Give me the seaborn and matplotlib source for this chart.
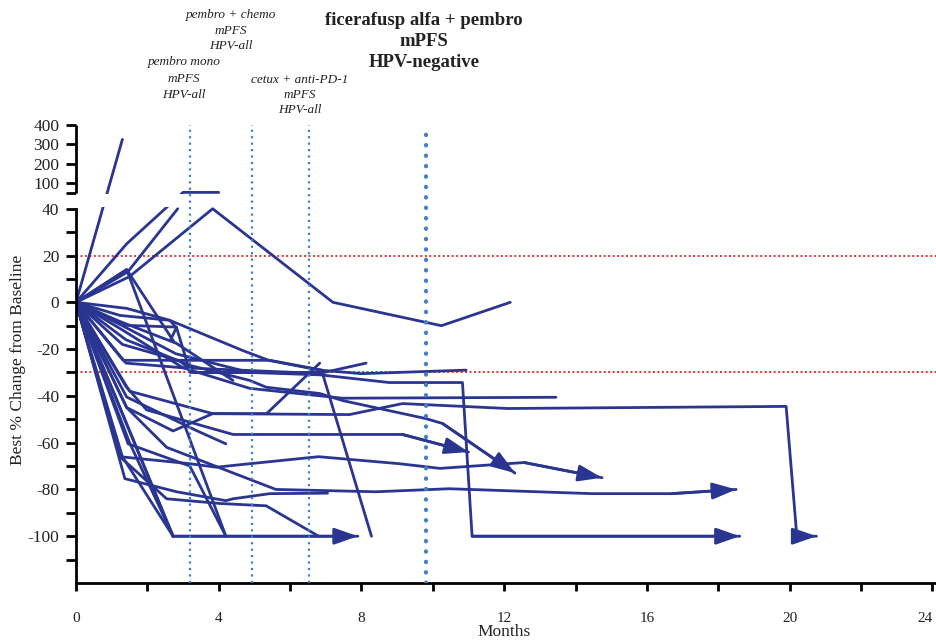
import numpy as np
import pandas as pd
import matplotlib
matplotlib.use("Agg")
import matplotlib.pyplot as plt
import seaborn as sns

# ---------------- data ----------------
# months on study and best % change from baseline, one list per patient
months = [
    [0, 1.3],
    [0, 1.42, 3.0, 4.0],
    [0, 1.45, 2.85],
    [0, 1.5, 3.83, 7.2, 10.24, 12.17],
    [0, 1.42, 2.75],
    [0, 1.42, 4.2],
    [0, 1.23, 2.63, 2.82, 3.2, 6.9, 8.28],
    [0, 1.42, 2.63, 4.67, 5.4, 6.83, 8.0, 10.93],
    [0, 1.32, 2.82, 2.65],
    [0, 1.3, 2.8, 4.87, 6.83, 8.78, 10.83, 11.1, 18.6],
    [0, 1.32, 3.0, 4.87, 7.47, 13.45],
    [0, 1.4, 3.2, 4.87, 5.33, 6.83, 7.47, 9.8, 10.27, 12.3],
    [0, 1.32, 5.43, 6.9],
    [0, 1.4, 3.0, 6.83, 8.13],
    [0, 1.42, 2.72, 3.83, 7.66, 9.15, 12.1, 19.9, 20.2, 20.75],
    [0, 1.5, 3.83, 5.34, 6.83],
    [0, 1.4, 1.98, 4.4, 9.15, 11.0],
    [0, 1.42, 3.37, 4.2],
    [0, 1.2, 2.82, 4.4],
    [0, 1.23, 3.19, 3.93, 4.87, 6.8, 9.06, 10.2, 12.56, 14.74],
    [0, 1.37, 2.82, 4.2, 4.4, 5.43, 7.05],
    [0, 1.23, 2.54, 4.03, 5.33, 6.8],
    [0, 1.42, 2.54, 5.6, 8.4, 10.46, 14.46, 16.7, 18.5],
    [0, 1.46, 3.19, 4.2],
    [0, 2.72, 7.9],
    [0, 1.3, 2.72],
    [0, 1.5, 2.72],
    [0, 1.1, 2.72],
    [0, 1.3, 2.9, 3.3, 6.9],
]
pct_change = [
    [0, 325],
    [0, 25, 50, 50],
    [0, 13, 40],
    [0, 11, 40, 0, -10, 0],
    [0, 14, -17],
    [0, 14, -100],
    [0, -5.6, -7.7, -11, -30, -30, -100],
    [0, -2.6, -7.7, -20.6, -24.8, -29, -30.5, -29],
    [0, -9.8, -10.6, -16],
    [0, -10, -22, -30, -31, -34.3, -34.3, -100, -100],
    [0, -12, -28, -36.8, -41, -40.6],
    [0, -16, -27, -33.4, -36.3, -39, -42, -49.7, -51.8, -73],
    [0, -24.8, -24.8, -29],
    [0, -26, -28, -30.4, -26],
    [0, -45, -55, -47.6, -48, -43.3, -45.4, -44.5, -100, -100],
    [0, -38, -47.6, -47.6, -26],
    [0, -36, -46, -56.5, -56.5, -64],
    [0, -40.5, -54.8, -60.5],
    [0, -8, -17.6, -33.4],
    [0, -66, -69, -70.5, -69, -66, -69, -71, -68.5, -75],
    [0, -75.4, -81, -84.8, -84, -81.8, -81.6],
    [0, -66, -84, -86, -87, -100],
    [0, -45, -62, -80, -81, -79.7, -81.8, -81.8, -80],
    [0, -60.5, -70, -100],
    [0, -100, -100],
    [0, -66, -100],
    [0, -60, -100],
    [0, -40, -100],
    [0, -18, -25, -30, -30],
]
# patients still on treatment (arrow at end of line)
ongoing = [False, False, False, False, False, False, False, False, False, True,
           False, True, False, False, True, False, True, False, False, True,
           False, False, True, False, True, False, False, False, False]

mpfs_months = [3.2, 4.92, 6.52, 9.82]
mpfs_labels = ["pembro mono\nmPFS\nHPV-all",
               "pembro + chemo\nmPFS\nHPV-all",
               "cetux + anti-PD-1\nmPFS\nHPV-all",
               "ficerafusp alfa + pembro\nmPFS\nHPV-negative"]
threshold_pct = [20, -30]

y_major = [-100, -80, -60, -40, -20, 0, 20, 40, 100, 200, 300, 400]
y_minor = [-110, -90, -70, -50, -30, -10, 10, 30, 46.4]
x_major = [0, 4, 8, 12, 16, 20, 24]
x_minor = [2, 6, 10, 14, 18, 22]

# ---------------- build long table ----------------
rows = []
for pid, (mo, pc) in enumerate(zip(months, pct_change)):
    for m, p in zip(mo, pc):
        rows.append({"pid": pid, "month": m, "pct": p})
df = pd.DataFrame(rows)

navy = "#2a3591"
vblue = "#3f80cc"
red = "#e8312f"
txt = "#222222"

sns.set_style("ticks")
plt.rcParams["font.family"] = ["Liberation Serif", "DejaVu Serif"]

fig = plt.figure(figsize=(9.36, 6.44), dpi=100)
ax = fig.add_axes([76 / 936, 1 - 583 / 644, 860 / 936, 458 / 644])

sns.lineplot(data=df, x="month", y="pct", units="pid", estimator=None,
             sort=False, color=navy, lw=2.0, ax=ax, legend=False, zorder=2)

# segmented (broken) y axis, like a Prism graph
seg_data = [-1000, 40, 46.4, 100, 400, 5000]
seg_axis = [-1000, 40, 46.7, 51.11, 75.8, 75.8 + 4600 * 0.0823]


def fwd(v):
    return np.interp(v, seg_data, seg_axis)


def inv(v):
    return np.interp(v, seg_axis, seg_data)


ax.set_yscale("function", functions=(fwd, inv))
ax.set_ylim(-120, 400)
ax.set_xlim(0, 24.1)

# arrows for ongoing patients
for mo, pc, on in zip(months, pct_change, ongoing):
    if on:
        ax.annotate("", xy=(mo[-1], pc[-1]), xytext=(mo[-2], pc[-2]),
                    arrowprops=dict(arrowstyle="-|>,head_length=0.8,head_width=0.28",
                                    color=navy, lw=2.0, mutation_scale=18,
                                    shrinkA=0, shrinkB=0),
                    zorder=2)

# thresholds
for t in threshold_pct:
    ax.axhline(t, color=red, lw=1.4, ls=(0, (1, 1.3)), zorder=1.5)

# gap of the broken axis
ax.axhspan(40.6, 46.0, facecolor="white", edgecolor="none", zorder=3)

# mPFS vertical lines
for i, xm in enumerate(mpfs_months):
    if i < 3:
        ax.axvline(xm, color=vblue, lw=1.6, ls=(0, (1, 1.9)), zorder=4)
    else:
        ax.axvline(xm, color=vblue, lw=3.0, ls=(0, (0.1, 2.4)),
                   dash_capstyle="round", zorder=4)

# spines
for s in ["top", "right"]:
    ax.spines[s].set_visible(False)
ax.spines["left"].set_linewidth(2.0)
ax.spines["bottom"].set_linewidth(2.0)
ax.spines["left"].set_color("black")
ax.spines["bottom"].set_color("black")
ax.spines["left"].set_bounds(-120, 40)
ax.plot([0, 0], [46.4, 400], transform=ax.get_yaxis_transform(), color="black",
        lw=2.0, clip_on=False, solid_capstyle="butt", zorder=5)

ax.set_yticks(y_major)
ax.set_yticklabels([str(v) for v in y_major])
ax.set_yticks(y_minor, minor=True)
ax.set_xticks(x_major)
ax.set_xticklabels([str(v) for v in x_major])
ax.set_xticks(x_minor, minor=True)
ax.tick_params(axis="y", which="both", direction="out", length=7, width=2,
               labelsize=12.5, pad=5, colors="black", labelcolor=txt)
ax.tick_params(axis="x", which="both", direction="out", length=6, width=2,
               labelsize=11, pad=15, colors="black", labelcolor=txt)
ax.get_xticklabels()[-1].set_horizontalalignment("right")
ax.set_xlabel("")
ax.set_ylabel("")

fig.text(0.019, 0.441, "Best % Change from Baseline", rotation=90, ha="center",
         va="center", fontsize=12.5, color=txt)
fig.text(504 / 936, 1 - 632 / 644, "Months", ha="center", va="center",
         fontsize=12.5, color=txt)

# mPFS annotations
pos = [(184, 79), (231, 30.5), (300, 95), (424, 41.5)]
spacing = [1.5, 1.38, 1.3, 1.27]
for i, (lab, (px, py)) in enumerate(zip(mpfs_labels, pos)):
    if i < 3:
        fig.text(px / 936, 1 - py / 644, lab, ha="center", va="center",
                 fontsize=9.5, style="italic", color=txt, linespacing=spacing[i])
    else:
        fig.text(px / 936, 1 - py / 644, lab, ha="center", va="center",
                 fontsize=13.5, fontweight="bold", color=txt,
                 linespacing=spacing[i])

fig.savefig("out.png", dpi=100)
